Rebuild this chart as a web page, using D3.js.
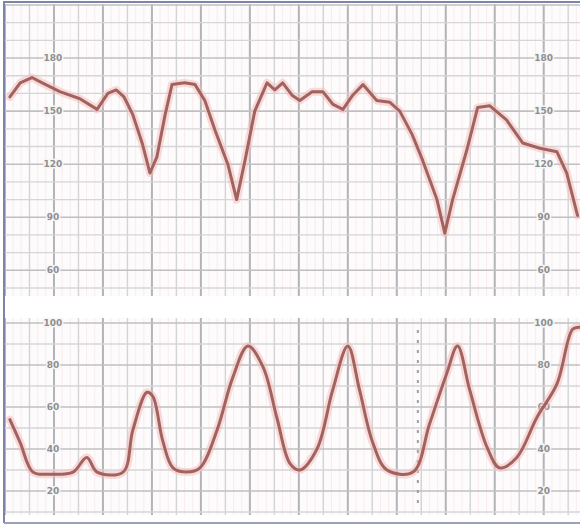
<!DOCTYPE html>
<html>
<head>
<meta charset="utf-8">
<script src="https://cdn.jsdelivr.net/npm/d3@7"></script>
<style>
  html, body { margin: 0; padding: 0; background: #ffffff; }
  svg { display: block; }
</style>
</head>
<body>
<div class="svg-container"></div>
<script>
// fetal heart rate trace (minutes, bpm)
const fhrTime = [0.10, 0.31, 0.55, 0.76, 1.12, 1.53, 1.88, 2.10, 2.27, 2.43, 2.61, 2.80, 2.96, 3.10, 3.27, 3.41, 3.67, 3.88, 4.08, 4.29, 4.55, 4.73, 4.90, 5.10, 5.35, 5.51, 5.67, 5.86, 6.02, 6.27, 6.49, 6.69, 6.90, 7.10, 7.31, 7.59, 7.86, 8.06, 8.31, 8.53, 8.82, 8.98, 9.14, 9.43, 9.65, 9.90, 10.24, 10.57, 10.92, 11.27, 11.47, 11.69];
const fhrBpm  = [158, 166, 169, 166, 161, 157, 151, 160, 162, 158, 148, 132, 115, 124, 148, 165, 166, 165, 156, 139, 120, 100, 122, 150, 166, 162, 166, 159, 156, 161, 161, 154, 151, 159, 165, 156, 155, 150, 137, 122, 100, 81, 100, 128, 152, 153, 145, 132, 129, 127, 115, 91];

// uterine contraction trace (minutes, mmHg)
const ucTime = [0.10, 0.31, 0.57, 0.92, 1.39, 1.67, 1.88, 2.41, 2.61, 2.90, 3.02, 3.22, 3.43, 3.71, 3.98, 4.33, 4.65, 4.96, 5.27, 5.55, 5.82, 6.02, 6.37, 6.69, 7.00, 7.24, 7.51, 7.80, 8.33, 8.67, 9.02, 9.24, 9.49, 9.84, 10.10, 10.45, 10.86, 11.27, 11.59, 11.73];
const ucMmhg = [54, 43, 29, 28, 29, 36, 29, 29, 49, 67, 65, 44, 31, 29, 31, 49, 74, 89, 79, 55, 33, 30, 40, 68, 89, 68, 43, 30, 29, 52, 76, 89, 68, 41, 31, 36, 55, 71, 97, 98];

const fhrTicks = [180, 150, 120, 90, 60];
const ucTicks = [100, 80, 60, 40, 20];
const labelTimes = [0.98, 11.0];

const W = 580, H = 526;
const topPanel = {y0: 4, y1: 296};
const botPanel = {y0: 318, y1: 515};

const svg = d3.select(".svg-container")
  .append("svg")
  .attr("width", W)
  .attr("height", H);

svg.append("rect").attr("width", W).attr("height", H).attr("fill", "#ffffff");

// scales
const x = d3.scaleLinear().domain([0, 11.7]).range([5, 578]);
const yTop = d3.scaleLinear().domain([50, 210]).range([288, 5]);
const yBot = d3.scaleLinear().domain([20, 100]).range([491, 323]);

function drawPanel(p, yScale, hStep, hMajor, labels) {
  const g = svg.append("g");
  g.append("rect")
    .attr("x", 5).attr("y", p.y0)
    .attr("width", 575).attr("height", p.y1 - p.y0)
    .attr("fill", "#fdfbfb");

  // faint pink fine grid
  d3.range(0, 11.8, 1 / 6).forEach(t => {
    g.append("line")
      .attr("x1", x(t)).attr("x2", x(t))
      .attr("y1", p.y0).attr("y2", p.y1)
      .attr("stroke", "#f6eaea").attr("stroke-width", 0.8);
  });
  // half-minute lines
  d3.range(0.5, 11.8, 1).forEach(t => {
    g.append("line")
      .attr("x1", x(t)).attr("x2", x(t))
      .attr("y1", p.y0).attr("y2", p.y1)
      .attr("stroke", "#d4d4d6").attr("stroke-width", 1.4);
  });
  // minute lines
  d3.range(0, 11.8, 1).forEach(t => {
    g.append("line")
      .attr("x1", x(t)).attr("x2", x(t))
      .attr("y1", p.y0).attr("y2", p.y1)
      .attr("stroke", "#b4b4b8").attr("stroke-width", 2);
  });

  const [lo, hi] = yScale.invert(p.y1) < yScale.invert(p.y0)
    ? [yScale.invert(p.y1), yScale.invert(p.y0)]
    : [yScale.invert(p.y0), yScale.invert(p.y1)];
  d3.range(Math.ceil(lo / hStep) * hStep, hi, hStep).forEach(v => {
    const major = v % hMajor === 0;
    g.append("line")
      .attr("x1", 5).attr("x2", 580)
      .attr("y1", yScale(v)).attr("y2", yScale(v))
      .attr("stroke", major ? "#c0c0c2" : "#d6d6d8")
      .attr("stroke-width", major ? 1.6 : 1.3);
  });

  // scale labels
  labelTimes.forEach(t => {
    labels.forEach(v => {
      g.append("text")
        .attr("x", x(t)).attr("y", yScale(v))
        .attr("dy", "0.35em")
        .attr("text-anchor", "middle")
        .attr("font-family", "DejaVu Sans, sans-serif")
        .attr("font-size", 9)
        .attr("font-weight", "bold")
        .attr("fill", "#8e8e90")
        .attr("stroke", "#f6f6f6")
        .attr("stroke-width", 3)
        .attr("paint-order", "stroke")
        .text(v);
    });
  });
  return g;
}

drawPanel(topPanel, yTop, 10, 30, fhrTicks);
drawPanel(botPanel, yBot, 10, 20, ucTicks);

// event marker in contraction panel
svg.append("line")
  .attr("x1", x(8.43)).attr("x2", x(8.43))
  .attr("y1", 330).attr("y2", 505)
  .attr("stroke", "#9aa3a2")
  .attr("stroke-width", 2)
  .attr("stroke-dasharray", "3,7");

// traces
function drawTrace(times, values, yScale, p, curve) {
  const pts = times.map((t, i) => [t, values[i]]);
  const line = d3.line()
    .x(d => x(d[0]))
    .y(d => yScale(d[1]))
    .curve(curve);
  const clipId = "clip" + p.y0;
  svg.append("clipPath").attr("id", clipId)
    .append("rect").attr("x", 5).attr("y", p.y0)
    .attr("width", 575).attr("height", p.y1 - p.y0);
  const g = svg.append("g").attr("clip-path", "url(#" + clipId + ")");
  g.append("path")
    .datum(pts)
    .attr("d", line)
    .attr("fill", "none")
    .attr("stroke", "#f2bcbc")
    .attr("stroke-opacity", 0.5)
    .attr("stroke-width", 8)
    .attr("stroke-linejoin", "round")
    .attr("stroke-linecap", "round");
  g.append("path")
    .datum(pts)
    .attr("d", line)
    .attr("fill", "none")
    .attr("stroke", "#a2625e")
    .attr("stroke-width", 3)
    .attr("stroke-linejoin", "round")
    .attr("stroke-linecap", "round");
}

drawTrace(fhrTime, fhrBpm, yTop, topPanel, d3.curveLinear);
drawTrace(ucTime, ucMmhg, yBot, botPanel, d3.curveCatmullRom);

// frame
svg.append("path")
  .attr("d", "M4,523 L4,2 L580,2")
  .attr("fill", "none")
  .attr("stroke", "#7d84aa")
  .attr("stroke-width", 2);
svg.append("line")
  .attr("x1", 4).attr("x2", 580)
  .attr("y1", 523).attr("y2", 523)
  .attr("stroke", "#9aa0bb")
  .attr("stroke-width", 2);
</script>
</body>
</html>
